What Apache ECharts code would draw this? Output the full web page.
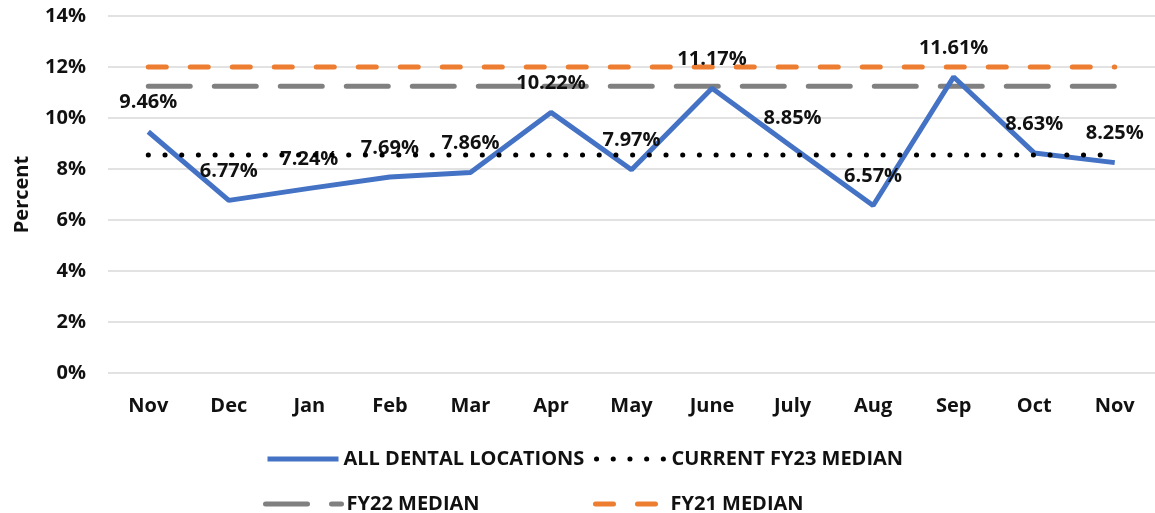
<!DOCTYPE html>
<html>
<head>
<meta charset="utf-8">
<script src="https://cdn.jsdelivr.net/npm/echarts@6/dist/echarts.min.js"></script>
<style>
  html, body { margin: 0; padding: 0; background: #fff; }
  #main { width: 1155px; height: 513px; }
</style>
</head>
<body>
<div id="main"></div>
<script>
// months on the x axis
var months = ['Nov', 'Dec', 'Jan', 'Feb', 'Mar', 'Apr', 'May', 'June', 'July', 'Aug', 'Sep', 'Oct', 'Nov'];
// monthly percent, all dental locations
var allDental = [9.46, 6.77, 7.24, 7.69, 7.86, 10.22, 7.97, 11.17, 8.85, 6.57, 11.61, 8.63, 8.25];
// medians (flat lines)
var fy23Median = 8.55;
var fy22Median = 11.25;
var fy21Median = 12.0;
var yTicks = [0, 2, 4, 6, 8, 10, 12, 14];

function flat(v) {
    var arr = [];
    for (var i = 0; i < months.length; i++) arr.push(v);
    return arr;
}

var font = '"Open Sans", sans-serif';
function txt(size, extra) {
    var o = { fontFamily: font, fontWeight: 'bold', fontSize: size, color: '#111' };
    return Object.assign(o, extra || {});
}

// legend: line only, no symbol in the middle
function leg(name, left, top, w) {
    return {
        data: [name], left: left, top: top,
        itemWidth: w, itemHeight: 14,
        itemStyle: { opacity: 0 },
        lineStyle: { width: 5 },
        textStyle: txt(20)
    };
}

var myChart = echarts.init(document.getElementById('main'));
myChart.setOption({
    animation: false,
    grid: { left: 108, top: 16, width: 1053, height: 357, containLabel: false },
    legend: [
        leg('ALL DENTAL LOCATIONS', 260, 444, 71),
        leg('CURRENT FY23 MEDIAN', 589, 444, 70),
        leg('FY22 MEDIAN', 258, 489, 76),
        leg('FY21 MEDIAN', 588, 489, 70)
    ],
    xAxis: {
        type: 'category',
        data: months,
        boundaryGap: true,
        axisLine: { show: false },
        axisTick: { show: false },
        axisLabel: txt(20, { margin: 23 })
    },
    yAxis: {
        type: 'value',
        min: yTicks[0],
        max: yTicks[yTicks.length - 1],
        interval: 2,
        name: 'Percent',
        nameLocation: 'middle',
        nameGap: 76,
        nameRotate: 90,
        nameTextStyle: txt(20),
        axisLabel: txt(20, { margin: 22, formatter: '{value}%' }),
        splitLine: { lineStyle: { color: '#d9d9d9', width: 1.5 } }
    },
    series: [
        {
            name: 'ALL DENTAL LOCATIONS',
            type: 'line',
            data: allDental,
            symbol: 'circle',
            symbolSize: 0.01,
            showSymbol: true,
            lineStyle: { color: '#4472C4', width: 5 },
            itemStyle: { color: '#4472C4' },
            label: {
                show: true,
                position: 'top',
                distance: 19,
                formatter: function (p) { return p.value.toFixed(2) + '%'; },
                fontFamily: font, fontWeight: 'bold', fontSize: 20, color: '#111'
            },
            z: 3
        },
        {
            name: 'CURRENT FY23 MEDIAN',
            type: 'line',
            data: flat(fy23Median),
            symbol: 'none',
            lineStyle: { color: '#000', width: 5, type: [0.1, 16.6], cap: 'round' },
            itemStyle: { color: '#000' },
            z: 4
        },
        {
            name: 'FY22 MEDIAN',
            type: 'line',
            data: flat(fy22Median),
            symbol: 'none',
            lineStyle: { color: '#808080', width: 5, type: [42, 24], cap: 'round' },
            itemStyle: { color: '#808080' },
            z: 2
        },
        {
            name: 'FY21 MEDIAN',
            type: 'line',
            data: flat(fy21Median),
            symbol: 'none',
            lineStyle: { color: '#ED7D31', width: 5, type: [18, 24], cap: 'round' },
            itemStyle: { color: '#ED7D31' },
            z: 2
        }
    ]
});
</script>
</body>
</html>
